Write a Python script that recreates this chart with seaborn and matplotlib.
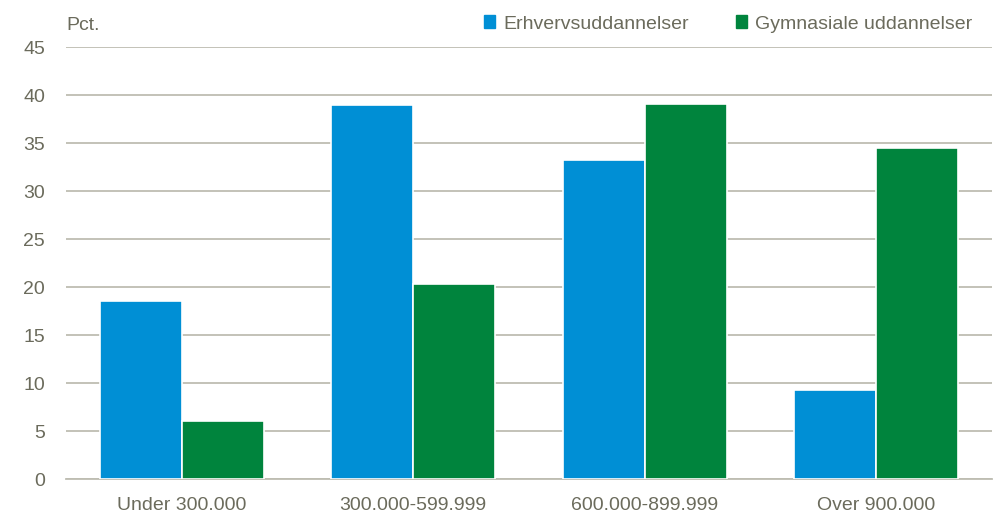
import pandas as pd
import matplotlib.pyplot as plt
import seaborn as sns

# Data
categories = ['Under 300.000', '300.000-599.999', '600.000-899.999', 'Over 900.000']
erhverv = [18.5, 39.0, 33.2, 9.3]
gymnasial = [6.0, 20.3, 39.1, 34.5]
series_names = ['Erhvervsuddannelser', 'Gymnasiale uddannelser']
yticks = [0, 5, 10, 15, 20, 25, 30, 35, 40, 45]

df = pd.DataFrame({
    'kategori': categories * 2,
    'serie': [series_names[0]] * 4 + [series_names[1]] * 4,
    'pct': erhverv + gymnasial,
})

sns.set_style('white')
plt.rcParams['font.family'] = ['Liberation Sans Narrow', 'Liberation Sans', 'DejaVu Sans']
text_col = '#6b6b5c'
grid_col = '#bebdb2'
palette = {series_names[0]: '#008fd5', series_names[1]: '#00843d'}
fs = 14

fig = plt.figure(figsize=(9.95, 5.2), dpi=100)
ax = fig.add_axes([66 / 995, 1 - 479 / 520, 926 / 995, 432 / 520])

sns.barplot(data=df, x='kategori', y='pct', hue='serie', palette=palette,
            width=0.71, edgecolor='white', linewidth=1.2, saturation=1,
            ax=ax, legend=False, zorder=3)

ax.set_ylim(0, 45)
ax.set_yticks(yticks)
ax.set_xlim(-0.5, 3.5)
ax.yaxis.grid(True, color=grid_col, linewidth=1.3, zorder=0)
ax.set_axisbelow(True)
for s in ['top', 'right', 'left']:
    ax.spines[s].set_visible(False)
ax.spines['bottom'].set_color(grid_col)
ax.spines['bottom'].set_linewidth(1.3)
ax.tick_params(axis='both', length=0, labelsize=fs, colors=text_col)
ax.tick_params(axis='y', pad=15)
ax.tick_params(axis='x', pad=13)
ax.set_xlabel('')
ax.set_ylabel('')

fig.text(66 / 995, 1 - 25 / 520, 'Pct.', fontsize=fs, color=text_col, va='center', ha='left')

# legend
handles = [plt.Rectangle((0, 0), 1, 1, color=palette[n]) for n in series_names]
leg = fig.legend(handles, series_names, loc='center right', bbox_to_anchor=(980 / 995, 1 - 24 / 520),
                 ncol=2, frameon=False, fontsize=fs, handlelength=0.6, handleheight=0.6,
                 handletextpad=0.4, columnspacing=2.4, borderaxespad=0)
for t in leg.get_texts():
    t.set_color(text_col)

plt.savefig('out.png', dpi=100)
plt.close()
